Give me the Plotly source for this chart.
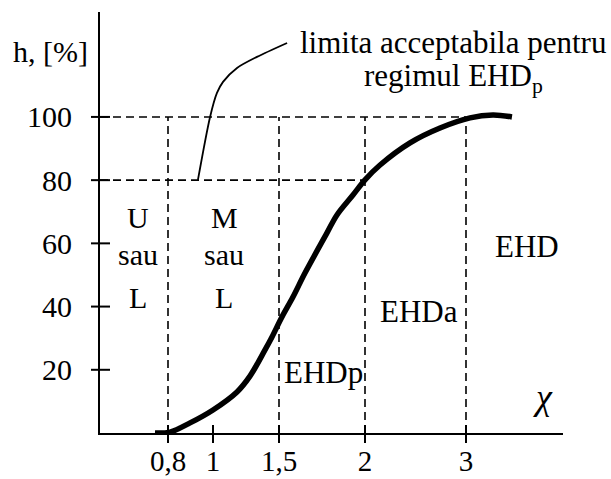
import numpy as np
import plotly.graph_objects as go

# ---- data ----
chi_ticks = [0.8, 1.0, 1.5, 2.0, 3.0]
chi_tick_labels = ["0,8", "1", "1,5", "2", "3"]
h_ticks = [20, 40, 60, 80, 100]
h_tick_labels = ["20", "40", "60", "80", "100"]

curve_chi = [0.742, 0.809, 0.898, 1.0, 1.182, 1.28, 1.394, 1.447, 1.517, 1.581, 1.651,
             1.779, 1.837, 1.93, 2.0, 2.149, 2.446, 2.743, 3.04, 3.267, 3.455]
curve_h = [0, 0.3, 3.2, 7.3, 13.0, 18.0, 26.3, 30.4, 36.7, 43.0, 50.6,
           63.3, 69.0, 75.3, 80.1, 84.8, 91.8, 96.5, 99.7, 100.6, 100]

leader_chi = [0.933, 0.987, 1.03, 1.076, 1.182, 1.333, 1.547]
leader_h = [80.1, 100, 107.6, 111.1, 115.5, 119, 123.4]

boundary_chi = [0.8, 1.5, 2.0, 3.0]     # vertical dashed limits
limit_h = [100, 80]                      # horizontal dashed limits
limit_chi_end = [3.0, 2.0]

# ---- schematic (non-uniform) axis scale: chi -> axis units ----
AXIS_U = [68, 113, 179, 265, 366]
U_RANGE = [0, 463]
H_RANGE = [0, 133.2]


def to_u(c):
    c = np.atleast_1d(np.asarray(c, dtype=float))
    xs = np.array(chi_ticks)
    us = np.array(AXIS_U, dtype=float)
    out = np.interp(c, xs, us)
    lo = c < xs[0]
    hi = c > xs[-1]
    out[lo] = us[0] + (c[lo] - xs[0]) * (us[1] - us[0]) / (xs[1] - xs[0])
    out[hi] = us[-1] + (c[hi] - xs[-1]) * (us[-1] - us[-2]) / (xs[-1] - xs[-2])
    return out


FONT = "Liberation Serif, Times New Roman, serif"
FS = 30
dash = "8px,5px"

fig = go.Figure()

for hv, ce in zip(limit_h, limit_chi_end):
    fig.add_trace(go.Scatter(x=[U_RANGE[0], to_u(ce)[0]], y=[hv, hv], mode="lines",
                             line=dict(color="black", width=1.6, dash=dash),
                             hoverinfo="skip", showlegend=False))
for cb in boundary_chi:
    u = to_u(cb)[0]
    fig.add_trace(go.Scatter(x=[u, u], y=[0, 100], mode="lines",
                             line=dict(color="black", width=1.6, dash=dash),
                             hoverinfo="skip", showlegend=False))

fig.add_trace(go.Scatter(x=to_u(leader_chi), y=leader_h, mode="lines",
                         line=dict(color="black", width=1.8, shape="spline", smoothing=0.8),
                         hoverinfo="skip", showlegend=False, cliponaxis=False))

fig.add_trace(go.Scatter(x=to_u(curve_chi), y=curve_h, mode="lines",
                         line=dict(color="black", width=5.5, shape="spline", smoothing=1.0),
                         showlegend=False, cliponaxis=False))

shapes = []
# crossing tick marks
for hv in h_ticks:
    shapes.append(dict(type="line", xref="paper", yref="y", x0=-9 / 463, x1=10 / 463, y0=hv, y1=hv,
                       line=dict(color="black", width=2)))
for cv in chi_ticks:
    u = to_u(cv)[0]
    shapes.append(dict(type="line", xref="x", yref="paper", x0=u, x1=u, y0=-10 / 421, y1=8 / 421,
                       line=dict(color="black", width=2)))


def ann(text, u, h, size=FS, **kw):
    d = dict(text=text, x=u, y=h, xref="x", yref="y", showarrow=False,
             font=dict(family=FONT, size=size, color="black"), xanchor="center", yanchor="middle")
    d.update(kw)
    return d


def px_u(px):
    return px - 100


def px_h(py):
    return (433 - py) / 3.16


annotations = [
    ann("h, [%]", px_u(50) / 463, px_h(52), xref="paper"),
    ann("limita acceptabila pentru", px_u(453), px_h(43), size=31),
    ann("regimul EHD<sub>p</sub>", px_u(453), px_h(78), size=31),
    ann("U", px_u(138), px_h(218)), ann("sau", px_u(138), px_h(255)), ann("L", px_u(138), px_h(298)),
    ann("M", px_u(224), px_h(218)), ann("sau", px_u(224), px_h(255)), ann("L", px_u(224), px_h(298)),
    ann("EHDp", px_u(323), px_h(373), size=31),
    ann("EHDa", px_u(419), px_h(312), size=31),
    ann("EHD", px_u(527), px_h(247), size=31),
    ann("<i>χ</i>", px_u(543), px_h(397), size=36),
]

fig.update_layout(
    width=611, height=479,
    margin=dict(l=100, r=48, t=12, b=46),
    paper_bgcolor="white", plot_bgcolor="white",
    font=dict(family=FONT, size=FS, color="black"),
    shapes=shapes, annotations=annotations,
    xaxis=dict(range=U_RANGE, showgrid=False, zeroline=False, showline=True, linecolor="black",
               linewidth=2, tickmode="array", tickvals=list(to_u(chi_ticks)),
               ticktext=chi_tick_labels, ticks="", ticklabelstandoff=1,
               tickfont=dict(family=FONT, size=29, color="black"), automargin=False),
    yaxis=dict(range=H_RANGE, showgrid=False, zeroline=False, showline=True, linecolor="black",
               linewidth=2, tickmode="array", tickvals=h_ticks, ticktext=h_tick_labels,
               ticks="", ticklabelstandoff=20, automargin=False),
)

fig.write_html("out.html")
